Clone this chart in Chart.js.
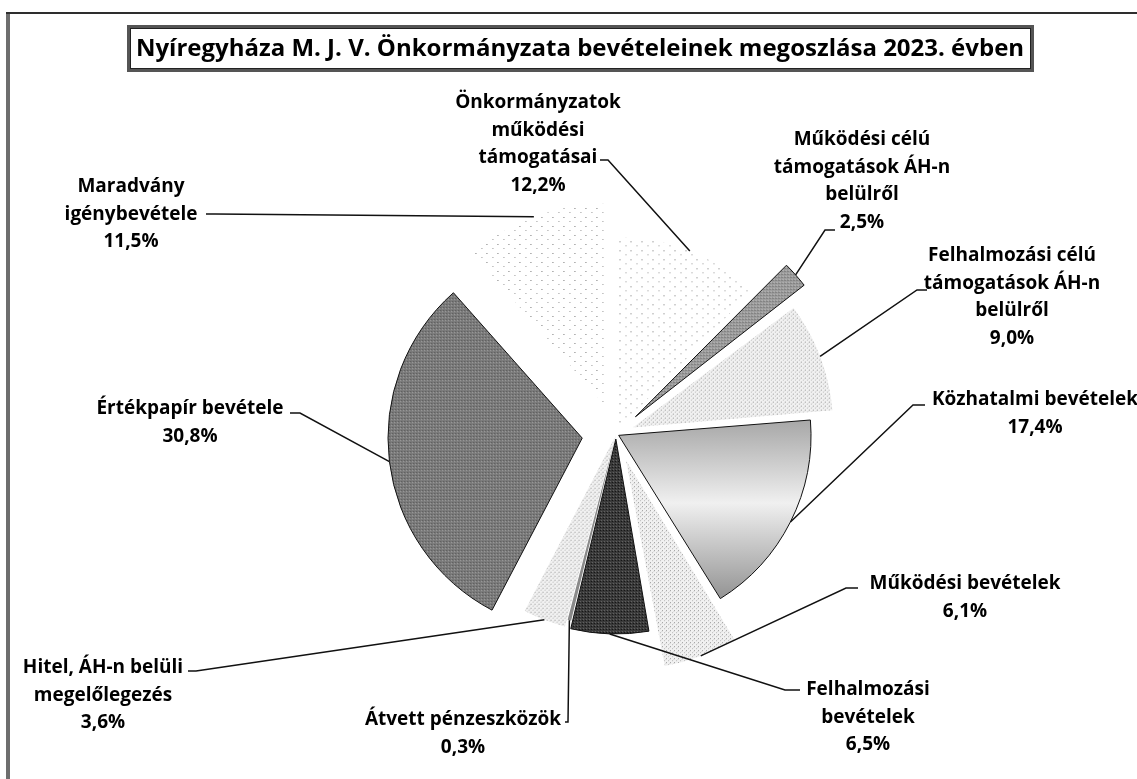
<!DOCTYPE html>
<html>
<head>
<meta charset="utf-8">
<script src="https://cdn.jsdelivr.net/npm/chart.js@4.4.0/dist/chart.umd.min.js"></script>
<style>
  html, body { margin: 0; padding: 0; background: #fff; }
  #wrap { position: relative; width: 1137px; height: 779px; overflow: hidden; }
</style>
</head>
<body>
<div id="wrap"><canvas id="chart" width="1137" height="779"></canvas></div>
<script>
// --- data ---
const chartTitle = "Nyíregyháza M. J. V. Önkormányzata bevételeinek megoszlása 2023. évben";
const categories = [
  ["Önkormányzatok", "működési", "támogatásai"],
  ["Működési célú", "támogatások ÁH-n", "belülről"],
  ["Felhalmozási célú", "támogatások ÁH-n", "belülről"],
  ["Közhatalmi bevételek"],
  ["Működési bevételek"],
  ["Felhalmozási", "bevételek"],
  ["Átvett pénzeszközök"],
  ["Hitel, ÁH-n belüli", "megelőlegezés"],
  ["Értékpapír bevétele"],
  ["Maradvány", "igénybevétele"]
];
const shares = [12.2, 2.5, 9.0, 17.4, 6.1, 6.5, 0.3, 3.6, 30.8, 11.5];

// --- layout / style ---
const FONT = "'Open Sans', Lato, sans-serif";
const explode = [4, 26, 18, 3, 28, 5, 0, 4, 34, 30]; // apex shift in px
const borderW = [0, 1, 0, 1, 0, 1, 0, 0, 1, 0];
// label block: center x, first line y
const labelAt = [
  [538, 103], [862, 140], [1012, 256], [1035, 400], [965, 584],
  [868, 690], [463, 720], [103, 668], [190, 409], [131, 187]
];
// leader: start x, y, elbow x (then straight to the slice)
const leaderFrom = [
  [600, 160, 608], [835, 230, 825], [927, 290, 917], [925, 405, 913], [858, 588, 846],
  [800, 690, 785], [565, 722, 568], [188, 671, 196], [290, 413, 300], [206, 214, 215]
];

function makePattern(w, h, bg, dots) {
  const c = document.createElement("canvas");
  c.width = w; c.height = h;
  const g = c.getContext("2d");
  g.fillStyle = bg; g.fillRect(0, 0, w, h);
  dots.forEach(d => { g.fillStyle = d[2]; g.fillRect(d[0], d[1], 1, 1); });
  return g.createPattern(c, "repeat");
}
const sparse = makePattern(11, 9, "#ffffff", [[2, 2, "#777"], [8, 6, "#999"]]);
const speckle = makePattern(4, 4, "#f1f1f1", [[0, 0, "#999"], [2, 2, "#bbb"], [3, 1, "#ddd"]]);
const midGray = makePattern(3, 3, "#9a9a9a", [[0, 0, "#666"], [1, 2, "#ccc"]]);
const darkGray = makePattern(3, 3, "#7a7a7a", [[0, 0, "#555"], [2, 1, "#a5a5a5"]]);
const nearBlack = makePattern(3, 3, "#3a3a3a", [[0, 0, "#111"], [1, 2, "#666"]]);

function kozhGradient(chart) {
  const a = chart.chartArea;
  if (!a) return "#bbb";
  const cy = (a.top + a.bottom) / 2;
  const g = chart.ctx.createLinearGradient(0, cy - 20, 0, cy + 175);
  g.addColorStop(0, "#a3a3a3");
  g.addColorStop(0.3, "#d6d6d6");
  g.addColorStop(0.45, "#f0f0f0");
  g.addColorStop(0.62, "#cfcfcf");
  g.addColorStop(1, "#888888");
  return g;
}
const fills = [sparse, midGray, speckle, null, speckle, nearBlack, "#8a8a8a", speckle, darkGray, sparse];

const pct = v => v.toFixed(1).replace(".", ",") + "%";

const decorPlugin = {
  id: "decor",
  afterDraw(chart) {
    const ctx = chart.ctx;
    ctx.save();
    // outer frame (only top and left visible)
    ctx.fillStyle = "#6e6e6e";
    ctx.fillRect(6, 13, 4, 779);
    ctx.fillStyle = "#2e2e2e";
    ctx.fillRect(6, 12, 1137, 2);
    // title box
    ctx.strokeStyle = "#555";
    ctx.lineWidth = 3;
    ctx.strokeRect(128.5, 26.5, 904, 44);
    ctx.strokeStyle = "#222";
    ctx.lineWidth = 1;
    ctx.strokeRect(130.5, 28.5, 900, 40);
    ctx.fillStyle = "#000";
    ctx.font = "bold 24px " + FONT;
    ctx.textAlign = "center";
    ctx.textBaseline = "middle";
    ctx.fillText(chartTitle, 580, 49);
    ctx.restore();
  }
};

const labelPlugin = {
  id: "sliceLabels",
  afterDatasetsDraw(chart) {
    const ctx = chart.ctx;
    const meta = chart.getDatasetMeta(0);
    ctx.save();
    meta.data.forEach((arc, i) => {
      const p = arc.getProps(["x", "y", "startAngle", "endAngle", "outerRadius", "circumference"], true);
      const mid = (p.startAngle + p.endAngle) / 2;
      const d = explode[i];
      const fix = 1 - Math.sin(Math.min(Math.PI, p.circumference));
      const r = p.outerRadius + d + d * fix;
      const tx = p.x + Math.cos(mid) * r;
      const ty = p.y + Math.sin(mid) * r;
      const lf = leaderFrom[i];
      ctx.strokeStyle = "#111";
      ctx.lineWidth = 1.5;
      ctx.beginPath();
      ctx.moveTo(lf[0], lf[1]);
      ctx.lineTo(lf[2], lf[1]);
      ctx.lineTo(tx, ty);
      ctx.stroke();

      const lines = categories[i].concat([pct(shares[i])]);
      ctx.fillStyle = "#000";
      ctx.font = "bold 19px " + FONT;
      ctx.textAlign = "center";
      ctx.textBaseline = "middle";
      lines.forEach((t, k) => ctx.fillText(t, labelAt[i][0], labelAt[i][1] + k * 27.5));
    });
    ctx.restore();
  }
};

new Chart(document.getElementById("chart"), {
  type: "pie",
  data: {
    labels: categories.map(c => c.join(" ")),
    datasets: [{
      data: shares,
      backgroundColor: c => (c.dataIndex === 3 ? kozhGradient(c.chart) : fills[c.dataIndex]),
      borderColor: borderW.map(w => (w ? "#111" : "rgba(0,0,0,0)")),
      borderWidth: borderW,
      offset: explode.map(e => e * 4),
      radius: 192
    }]
  },
  options: {
    responsive: false,
    animation: false,
    rotation: 0,
    layout: { padding: { left: 95, right: 0, top: 89, bottom: 0 } },
    plugins: {
      legend: { display: false },
      tooltip: { enabled: false },
      title: { display: false }
    },
    events: []
  },
  plugins: [labelPlugin, decorPlugin]
});
</script>
</body>
</html>
